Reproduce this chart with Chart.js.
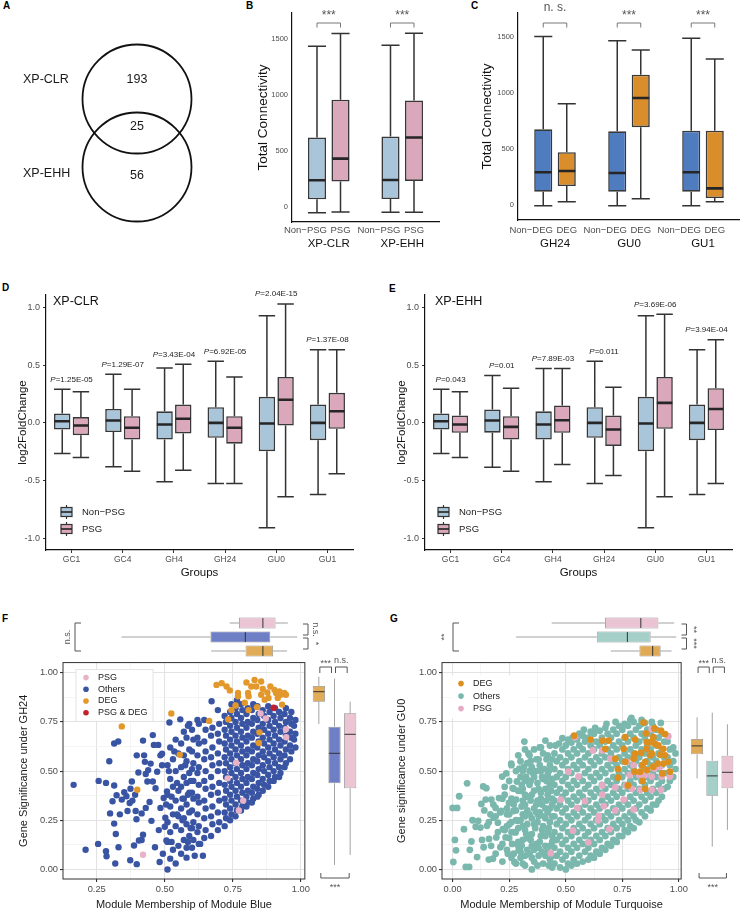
<!DOCTYPE html>
<html>
<head>
<meta charset="utf-8">
<script src="https://cdn.jsdelivr.net/npm/chart.js@4.4.1/dist/chart.umd.min.js"></script>
<style>
  body { margin: 0; background: #fff; }
  #fig { position: relative; width: 740px; height: 915px; overflow: hidden; background: #fff; font-family: 'Liberation Sans', Arial, sans-serif; }
  #fig canvas { position: absolute; }
  .tag { position: absolute; font-weight: bold; font-size: 10px; line-height: 10px; color: #000; }
</style>
</head>
<body>
<div id="fig">
  <div class="tag" style="left:3px;top:1px">A</div>
  <div class="tag" style="left:246px;top:1px">B</div>
  <div class="tag" style="left:471px;top:1px">C</div>
  <div class="tag" style="left:2px;top:283px">D</div>
  <div class="tag" style="left:389px;top:284px">E</div>
  <div class="tag" style="left:2px;top:614px">F</div>
  <div class="tag" style="left:390px;top:614px">G</div>
  <canvas id="venn" width="230" height="240" style="left:0;top:0"></canvas>
  <canvas id="chartB" width="200" height="250" style="left:240px;top:0"></canvas>
  <canvas id="chartC" width="270" height="250" style="left:470px;top:0"></canvas>
  <canvas id="chartD" width="360" height="302" style="left:0;top:280px"></canvas>
  <canvas id="chartE" width="360" height="302" style="left:380px;top:280px"></canvas>
  <canvas id="chartF" width="312" height="260" style="left:0;top:655px"></canvas>
  <canvas id="chartG" width="310" height="260" style="left:380px;top:655px"></canvas>
  <canvas id="topF" width="330" height="47" style="left:0;top:612px"></canvas>
  <canvas id="rightF" width="55" height="275" style="left:308px;top:640px"></canvas>
  <canvas id="topG" width="360" height="47" style="left:380px;top:612px"></canvas>
  <canvas id="rightG" width="54" height="275" style="left:686px;top:640px"></canvas>
</div>
<script>
// ---- A: Venn ----
const vennSets = ['XP-CLR', 'XP-EHH'];
const vennCounts = [193, 25, 56];   // only XP-CLR, both, only XP-EHH

// ---- B / C: total connectivity, boxes as [min, q1, median, q3, max] ----
const connTicks = [0, 500, 1000, 1500];
const groupsB = ['XP-CLR', 'XP-EHH'];
const connNonPSG = [[-54, 66, 237, 620, 1437], [-50, 69, 240, 629, 1447]];
const connPSG = [[-48, 225, 431, 959, 1552], [-50, 231, 620, 952, 1554]];
const sigB = ['***', '***'];

const groupsC = ['GH24', 'GU0', 'GU1'];
const connNonDEG = [[-6, 119, 293, 677, 1506], [-6, 119, 286, 659, 1469], [-6, 119, 293, 665, 1492]];
const connDEG = [[29, 170, 304, 472, 906], [56, 696, 957, 1165, 1386], [29, 62, 149, 665, 1306]];
const sigC = ['n. s.', '***', '***'];

// ---- D / E: log2FoldChange ----
const fcGroups = ['GC1', 'GC4', 'GH4', 'GH24', 'GU0', 'GU1'];
const fcTicks = [-1, -0.5, 0, 0.5, 1];
const clrNonPSG = [[-0.265, -0.058, 0.014, 0.08, 0.29], [-0.38, -0.08, 0.02, 0.12, 0.42], [-0.51, -0.144, -0.014, 0.10, 0.475],
  [-0.525, -0.13, 0.0, 0.135, 0.533], [-0.908, -0.245, -0.006, 0.225, 0.928], [-0.62, -0.15, 0.0, 0.158, 0.634]];
const clrPSG = [[-0.30, -0.107, -0.023, 0.05, 0.27], [-0.42, -0.144, -0.043, 0.058, 0.29], [-0.41, -0.092, 0.035, 0.158, 0.507],
  [-0.525, -0.18, -0.043, 0.058, 0.398], [-0.64, -0.023, 0.20, 0.398, 1.03], [-0.44, -0.052, 0.10, 0.26, 0.634]];
const pClr = ['1.25E-05', '1.29E-07', '3.43E-04', '6.92E-05', '2.04E-15', '1.37E-08'];
const ehhNonPSG = [[-0.265, -0.058, 0.014, 0.08, 0.29], [-0.385, -0.085, 0.02, 0.115, 0.41], [-0.51, -0.144, -0.014, 0.10, 0.47],
  [-0.525, -0.13, 0.0, 0.135, 0.533], [-0.908, -0.245, -0.006, 0.225, 0.928], [-0.62, -0.15, 0.0, 0.158, 0.634]];
const ehhPSG = [[-0.30, -0.086, -0.014, 0.063, 0.27], [-0.42, -0.144, -0.035, 0.058, 0.30], [-0.36, -0.086, 0.023, 0.15, 0.47],
  [-0.455, -0.20, -0.058, 0.063, 0.308], [-0.64, -0.052, 0.173, 0.398, 0.94], [-0.525, -0.063, 0.12, 0.30, 0.72]];
const pEhh = ['0.043', '0.01', '7.89E-03', '0.011', '3.69E-06', '3.94E-04'];

// ---- F / G: module membership vs gene significance ----
const unitMajor = [0, 0.25, 0.5, 0.75, 1];
const unitMinor = [0.125, 0.375, 0.625, 0.875];

const fOthers = [
  [.165,.43],[.209,.10],[.257,.45],[.255,.13],[.284,.44],[.296,.55],[.314,.64],[.329,.65],[.299,.285],[.284,.093],
  [.286,.067],[.314,.427],[.308,.347],[.314,.233],[.320,.18],[.318,.03],[.323,.377],[.335,.28],[.342,.355],[.351,.393],
  [.330,.113],[.359,.372],[.363,.297],[.371,.338],[.374,.41],[.379,.447],[.381,.35],[.373,.047],[.387,.122],[.391,.38],
  [.393,.297],[.396,.255],[.397,.58],[.397,.027],[.403,.493],[.405,.147],[.415,.15],[.415,.285],[.420,.177],[.420,.655],
  [.424,.58],[.427,.547],[.430,.485],[.430,.313],[.436,.447],[.439,.505],[.444,.343],[.448,.538],[.451,.247],[.456,.683],
  [.456,.447],[.460,.633],[.464,.113],[.466,.413],[.472,.497],[.476,.633],[.478,.20],[.481,.038],[.484,.58],[.484,.313],
  [.490,.588],[.490,.53],[.493,.08],[.496,.363],[.500,.217],[.502,.263],[.506,.147],[.508,.397],
  [.51,.00],[.52,.055],[.54,.03],[.53,.10],[.51,.14],[.55,.12],[.52,.19],[.54,.22],[.51,.24],[.53,.28],[.55,.27],[.52,.32],
  [.54,.35],[.51,.38],[.53,.42],[.55,.40],[.52,.46],[.54,.50],[.51,.53],[.53,.56],[.55,.59],[.52,.62],[.54,.66],[.517,.747],
  [.557,.763],[.56,.08],[.58,.11],[.57,.15],[.59,.17],[.56,.20],[.58,.23],[.57,.26],[.59,.29],[.56,.31],[.58,.33],[.57,.36],
  [.59,.39],[.56,.42],[.58,.44],[.57,.47],[.59,.49],[.56,.52],[.58,.55],[.57,.58],[.59,.61],[.56,.64],[.58,.67],[.57,.70],
  [.59,.74],[.58,.06],[.585,.73],[.62,.76],[.61,.07],[.64,.07],[.63,.13],
  [.505,.33],[.525,.37],[.545,.44],[.515,.50],[.535,.60],[.545,.28],[.525,.14],[.565,.36],[.575,.53],[.595,.45],[.585,.38],
  [.565,.25],[.595,.21],[.585,.14],
  [.60,.11],[.605,.15],[.60,.21],[.605,.24],[.60,.30],[.605,.36],[.60,.39],[.605,.45],[.60,.51],[.605,.54],[.60,.60],[.605,.66],[.60,.71],
  [.625,.13],[.62,.19],[.625,.22],[.62,.28],[.625,.34],[.62,.37],[.625,.43],[.62,.49],[.625,.52],[.62,.58],[.625,.64],[.62,.67],[.625,.74],
  [.645,.16],[.65,.20],[.645,.26],[.65,.31],[.645,.35],[.65,.41],[.645,.45],[.65,.50],[.645,.56],[.65,.60],[.645,.65],[.65,.71],[.645,.76],
  [.67,.17],[.675,.23],[.67,.27],[.675,.32],[.67,.38],[.675,.42],[.67,.47],[.675,.53],[.67,.57],[.675,.62],[.67,.68],[.675,.72],[.672,.855],
  [.695,.20],[.70,.24],[.695,.29],[.70,.35],[.695,.39],[.70,.44],[.695,.50],[.70,.54],[.695,.59],[.70,.65],[.695,.69],[.70,.74],[.695,.81],
  [.72,.22],[.725,.26],[.72,.29],[.725,.33],[.72,.36],[.725,.40],[.72,.43],[.725,.47],[.72,.50],[.725,.54],[.72,.57],[.725,.61],[.72,.64],[.725,.68],[.72,.71],[.725,.75],[.72,.78],
  [.74,.25],[.745,.28],[.74,.31],[.745,.35],[.74,.38],[.745,.42],[.74,.45],[.745,.49],[.74,.52],[.745,.56],[.74,.59],[.745,.63],[.74,.66],[.745,.70],[.74,.73],[.745,.77],[.74,.80],[.745,.84],
  [.76,.27],[.765,.30],[.76,.33],[.765,.37],[.76,.40],[.765,.44],[.76,.47],[.765,.51],[.76,.54],[.765,.58],[.76,.61],[.765,.65],[.76,.68],[.765,.72],[.76,.75],[.765,.79],[.76,.82],[.765,.86],
  [.78,.30],[.785,.32],[.78,.35],[.785,.39],[.78,.42],[.785,.46],[.78,.49],[.785,.53],[.78,.56],[.785,.60],[.78,.63],[.785,.67],[.78,.70],[.785,.74],[.78,.77],[.785,.81],[.78,.84],
  [.80,.32],[.805,.34],[.80,.37],[.805,.40],[.80,.44],[.805,.47],[.80,.51],[.805,.54],[.80,.58],[.805,.61],[.80,.65],[.805,.68],[.80,.72],[.805,.75],[.80,.79],[.805,.82],
  [.82,.34],[.825,.36],[.82,.39],[.825,.42],[.82,.46],[.825,.49],[.82,.53],[.825,.56],[.82,.60],[.825,.63],[.82,.67],[.825,.70],[.82,.74],[.825,.77],[.82,.81],[.825,.84],
  [.84,.37],[.845,.38],[.84,.41],[.845,.44],[.84,.48],[.845,.51],[.84,.55],[.845,.58],[.84,.62],[.845,.65],[.84,.69],[.845,.72],[.84,.76],[.845,.79],[.84,.83],
  [.86,.40],[.865,.43],[.86,.46],[.865,.50],[.86,.53],[.865,.57],[.86,.60],[.865,.64],[.86,.67],[.865,.71],[.86,.74],[.865,.78],[.86,.81],
  [.88,.42],[.885,.45],[.88,.48],[.885,.52],[.88,.55],[.885,.59],[.88,.62],[.885,.66],[.88,.69],[.885,.73],[.88,.76],[.885,.80],[.88,.83],
  [.90,.45],[.905,.47],[.90,.50],[.905,.54],[.90,.57],[.905,.61],[.90,.64],[.905,.68],[.90,.71],[.905,.75],[.90,.78],[.905,.82],
  [.92,.47],[.925,.49],[.92,.52],[.925,.56],[.92,.59],[.925,.63],[.92,.66],[.925,.70],[.92,.73],[.925,.77],[.92,.80],
  [.94,.52],[.945,.54],[.94,.58],[.945,.61],[.94,.65],[.945,.68],[.94,.72],[.945,.75],[.94,.79],[.945,.82],
  [.96,.56],[.965,.60],[.96,.63],[.965,.67],[.96,.70],[.965,.74],[.96,.77],[.965,.80],
  [.98,.62],[.975,.66],[.98,.69],[.975,.73],[.98,.76]
];
const fDEG = [
  [.690,.938],[.709,.947],[.727,.93],[.739,.91],[.769,.897],[.769,.88],[.800,.95],[.818,.93],[.830,.963],[.836,.93],
  [.854,.955],[.860,.917],[.888,.93],[.903,.913],[.909,.897],[.921,.905],[.939,.897],[.945,.888],[.808,.88],[.854,.888],
  [.867,.863],[.881,.872],[.915,.872],[.931,.838],[.794,.847],[.760,.833],[.745,.81],[.808,.81],[.839,.825],[.733,.763],
  [.848,.697],[.846,.643],[.663,.755],[.524,.793],[.555,.583],[.342,.727],[.399,.405],[.806,.897],[.877,.90],[.925,.888]
];
const fPSG = [[.852,.793],[.871,.767],[.945,.713],[.946,.672],[.762,.542],[.731,.463],[.788,.35],[.772,.30],[.420,.075]];
const fPSGDEG = [[.900,.822]];
const fTopStats = [[.733, .767, .854, .900, .945], [.339, .663, .790, .881, .979], [.666, .791, .854, .891, .942]];
const fRightStats = [[.727, .838, .888, .917, .963], [.022, .43, .58, .713, .953], [.072, .405, .675, .78, .838]];

const gOthers = [
  [.0,.313],[.02,.313],[.029,.372],[.003,.038],[.01,.15],[.015,.097],[.05,.205],[.064,.438],[.058,.013],[.073,.013],
  [.076,.10],[.083,.142],[.088,.25],[.102,.217],[.108,.063],[.113,.247],[.123,.213],[.127,.333],[.135,.422],[.137,.113],
  [.146,.355],[.149,.413],[.152,.222],[.161,.155],[.167,.28],[.171,.355],[.178,.055],[.181,.263],[.19,.313],[.193,.163],
  [.20,.238],[.205,.363],[.211,.113],[.215,.297],[.219,.472],[.222,.205],[.23,.38],[.234,.163],[.237,.488],[.24,.28],
  [.244,.08],[.249,.338],[.251,.23],[.259,.538],[.263,.13],[.266,.413],[.269,.297],[.273,.038],[.278,.188],[.281,.355],
  [.284,.447],[.288,.247],[.292,.097],[.295,.513],[.317,.65],
  [.14,.30],[.19,.27],[.23,.20],[.27,.19],[.29,.12],[.35,.12],[.17,.12],[.13,.15],[.22,.13],
  [.16,.24],[.18,.33],[.20,.19],[.21,.29],[.22,.36],[.24,.31],[.25,.16],[.26,.24],[.27,.41],[.28,.30],[.29,.21],[.30,.47],[.31,.41],
  [.16,.05],[.19,.08],[.22,.04],[.24,.10],[.26,.06],[.28,.03],[.30,.09],[.31,.28],[.32,.33],[.33,.23],[.34,.50],[.335,.59],[.37,.56],
  [.26,.53],[.29,.58],[.32,.61],[.41,.655],[.385,.62],[.43,.63],[.455,.63],[.485,.667],[.47,.64],[.51,.66],[.53,.67],[.56,.69],
  [.58,.71],[.63,.72],[.68,.74],[.72,.75],[.79,.77],[.835,.74],[.88,.75],[.92,.745],
  [.23,.42],[.25,.45],[.27,.33],[.28,.25],[.26,.19],[.29,.14],[.27,.08],[.25,.28],[.29,.40],[.28,.50],[.26,.36],[.24,.22],
  [.30,.55],[.31,.50],[.32,.45],[.30,.40],[.31,.35],[.33,.30],[.30,.25],[.32,.20],[.31,.15],[.33,.10],[.30,.06],[.32,.02],
  [.34,.58],[.35,.52],[.36,.47],[.34,.43],[.35,.38],[.37,.33],[.34,.28],[.36,.23],[.35,.18],[.37,.13],[.34,.08],[.36,.04],[.35,.00],
  [.38,.56],[.39,.50],[.40,.46],[.38,.41],[.39,.36],[.41,.31],[.38,.27],[.40,.22],[.39,.17],[.41,.12],[.38,.07],[.40,.03],
  [.42,.58],[.43,.53],[.42,.48],[.43,.43],[.42,.38],[.44,.33],[.42,.29],[.43,.24],[.42,.19],[.44,.14],[.42,.09],[.43,.05],[.44,.01],
  [.36,.61],[.40,.59],[.33,.54],[.37,.50],[.41,.41],[.33,.37],[.37,.29],[.41,.26],[.33,.16],[.38,.11],[.39,.62],
  [.315,.52],[.325,.47],[.305,.43],[.32,.38],[.305,.32],[.32,.27],[.31,.22],[.325,.18],[.305,.12],[.32,.07],[.31,.03],
  [.345,.55],[.355,.49],[.345,.45],[.36,.40],[.345,.35],[.36,.31],[.35,.26],[.365,.21],[.345,.15],[.36,.10],[.35,.06],
  [.385,.53],[.395,.47],[.375,.44],[.39,.39],[.375,.35],[.395,.33],[.385,.29],[.375,.24],[.395,.20],[.385,.14],[.395,.09],[.375,.02],
  [.415,.56],[.425,.50],[.405,.51],[.415,.45],[.435,.40],[.415,.35],[.43,.31],[.405,.27],[.425,.21],[.41,.17],[.43,.12],[.41,.07],[.425,.02],
  [.44,.56],[.44,.46],[.44,.36],[.44,.27],[.44,.17],[.44,.07],
  [.45,.03],[.46,.07],[.45,.11],[.46,.15],[.45,.19],[.46,.23],[.45,.27],[.46,.31],[.45,.35],[.46,.39],[.45,.43],[.46,.47],[.45,.51],[.46,.55],[.45,.59],
  [.475,.01],[.485,.05],[.475,.09],[.485,.13],[.475,.17],[.485,.21],[.475,.25],[.485,.29],[.475,.33],[.485,.37],[.475,.41],[.485,.45],[.475,.49],[.485,.53],[.475,.57],[.485,.61],
  [.50,.00],[.51,.03],[.50,.07],[.51,.11],[.50,.15],[.51,.19],[.50,.23],[.51,.27],[.50,.31],[.51,.35],[.50,.39],[.51,.43],[.50,.47],[.51,.51],[.50,.55],[.51,.59],[.50,.63],
  [.525,.02],[.535,.05],[.525,.09],[.535,.13],[.525,.17],[.535,.21],[.525,.25],[.535,.29],[.525,.33],[.535,.37],[.525,.41],[.535,.45],[.525,.49],[.535,.53],[.525,.57],[.535,.61],[.525,.645],
  [.55,.03],[.56,.07],[.55,.11],[.56,.15],[.55,.19],[.56,.23],[.55,.27],[.56,.31],[.55,.35],[.56,.39],[.55,.43],[.56,.47],[.55,.51],[.56,.55],[.55,.59],[.56,.63],[.55,.66],
  [.575,.04],[.585,.09],[.575,.13],[.585,.17],[.575,.21],[.585,.25],[.575,.29],[.585,.33],[.575,.37],[.585,.41],[.575,.45],[.585,.49],[.575,.53],[.585,.57],[.575,.61],[.585,.65],[.575,.68],
  [.60,.05],[.61,.07],[.60,.11],[.61,.15],[.60,.19],[.61,.23],[.60,.27],[.61,.31],[.60,.35],[.61,.39],[.60,.43],[.61,.47],[.60,.51],[.61,.55],[.60,.59],[.61,.63],[.60,.67],[.61,.70],
  [.625,.06],[.635,.09],[.625,.13],[.635,.17],[.625,.21],[.635,.25],[.625,.29],[.635,.33],[.625,.37],[.635,.41],[.625,.45],[.635,.49],[.625,.53],[.635,.57],[.625,.61],[.635,.65],[.625,.69],
  [.65,.08],[.66,.11],[.65,.15],[.66,.19],[.65,.23],[.66,.27],[.65,.31],[.66,.35],[.65,.39],[.66,.43],[.65,.47],[.66,.51],[.65,.55],[.66,.59],[.65,.63],[.66,.67],[.65,.705],
  [.675,.10],[.685,.13],[.675,.17],[.685,.21],[.675,.25],[.685,.29],[.675,.33],[.685,.37],[.675,.41],[.685,.45],[.675,.49],[.685,.53],[.675,.57],[.685,.61],[.675,.65],[.685,.69],[.675,.72],
  [.70,.12],[.71,.15],[.70,.19],[.71,.23],[.70,.27],[.71,.31],[.70,.35],[.71,.39],[.70,.43],[.71,.47],[.70,.51],[.71,.55],[.70,.59],[.71,.63],[.70,.67],[.71,.71],
  [.725,.14],[.735,.17],[.725,.21],[.735,.25],[.725,.29],[.735,.33],[.725,.37],[.735,.41],[.725,.45],[.735,.49],[.725,.53],[.735,.57],[.725,.61],[.735,.65],[.725,.69],[.735,.73],
  [.75,.17],[.76,.20],[.75,.23],[.76,.27],[.75,.31],[.76,.35],[.75,.39],[.76,.43],[.75,.47],[.76,.51],[.75,.55],[.76,.59],[.75,.63],[.76,.67],[.75,.71],[.76,.74],
  [.775,.19],[.785,.22],[.775,.25],[.785,.29],[.775,.33],[.785,.37],[.775,.41],[.785,.45],[.775,.49],[.785,.53],[.775,.57],[.785,.61],[.775,.65],[.785,.69],[.775,.73],[.785,.76],
  [.80,.21],[.81,.25],[.80,.27],[.81,.31],[.80,.35],[.81,.39],[.80,.43],[.81,.47],[.80,.51],[.81,.55],[.80,.59],[.81,.63],[.80,.67],[.81,.71],[.80,.75],
  [.825,.24],[.835,.29],[.825,.33],[.835,.37],[.825,.41],[.835,.45],[.825,.49],[.835,.53],[.825,.57],[.835,.61],[.825,.65],[.835,.69],[.825,.73],[.835,.76],
  [.85,.27],[.86,.31],[.85,.35],[.86,.39],[.85,.43],[.86,.47],[.85,.51],[.86,.55],[.85,.59],[.86,.63],[.85,.67],[.86,.71],[.85,.745],
  [.875,.30],[.885,.33],[.875,.37],[.885,.41],[.875,.45],[.885,.49],[.875,.53],[.885,.57],[.875,.61],[.885,.65],[.875,.69],[.885,.73],
  [.90,.33],[.91,.35],[.90,.39],[.91,.43],[.90,.47],[.91,.51],[.90,.55],[.91,.59],[.90,.63],[.91,.67],[.90,.71],
  [.925,.37],[.935,.41],[.925,.45],[.935,.49],[.925,.53],[.935,.57],[.925,.61],[.935,.65],[.925,.69],
  [.95,.42],[.96,.45],[.95,.49],[.96,.53],[.95,.57],[.96,.61],[.95,.65],
  [.975,.47],[.985,.51],[.975,.55],[.985,.59],[.975,.62]
];
const gDEG = [
  [.537,.68],[.61,.66],[.661,.655],[.69,.655],[.763,.672],[.807,.66],[.844,.747],[.854,.692],[.887,.672],[.921,.705],
  [.939,.688],[.873,.647],[.895,.638],[.909,.63],[.858,.613],[.88,.588],[.917,.583],[.939,.58],[.953,.547],[.931,.538],
  [.906,.538],[.887,.522],[.873,.58],[.833,.593],[.807,.588],[.80,.563],[.851,.547],[.839,.53],[.719,.563],[.756,.613],
  [.763,.547],[.731,.51],[.731,.467],[.804,.497],[.829,.497],[.86,.505],[.839,.45],[.775,.427],[.851,.41],[.927,.488],
  [.96,.497],[.892,.717],[.675,.613],[.931,.613],[.858,.647]
];
const gPSG = [
  [.541,.672],[.62,.605],[.661,.605],[.697,.563],[.77,.547],[.80,.53],[.88,.713],[.953,.677],[.892,.513],[.917,.522],
  [.924,.472],[.96,.472],[.88,.472],[.851,.48],[.825,.48],[.782,.48],[.792,.41],[.829,.405],[.88,.405],[.921,.405],
  [.719,.417],[.661,.427],[.556,.472],[.512,.497],[.478,.355],[.551,.313],[.585,.347],[.661,.38],[.668,.322],[.646,.272],
  [.643,.25],[.719,.30],[.756,.355],[.80,.305],[.693,.205],[.532,.197],[.599,.138],[.434,.083],[.766,.427]
];
const gTopStats = [[.434, .668, .825, .902, .971], [.278, .632, .766, .868, .98], [.693, .819, .877, .912, .96]];
const gRightStats = [[.455, .575, .617, .652, .76], [.113, .368, .467, .543, .783], [.197, .405, .485, .568, .725]];

// ---------------------------------------------------------------
const FONT = "'Liberation Sans', Arial, sans-serif";
Chart.defaults.font.family = FONT;
Chart.defaults.color = '#4d4d4d';
Chart.defaults.animation = false;
Chart.defaults.responsive = false;
Chart.defaults.layout.autoPadding = false;
Chart.defaults.plugins.legend.display = false;
Chart.defaults.plugins.tooltip.enabled = false;

const BLUE_LT = '#a9c5da', PINK = '#dba7bb', BLUE = '#4f7bbf', ORANGE = '#d98e2b';

function txt(ctx, s, x, y, font, color, align, base, rot) {
  ctx.save();
  ctx.font = font; ctx.fillStyle = color;
  ctx.textAlign = align || 'center'; ctx.textBaseline = base || 'middle';
  ctx.translate(x, y);
  if (rot) ctx.rotate(rot);
  ctx.fillText(s, 0, 0);
  ctx.restore();
}
function textWidth(ctx, s, font) {
  ctx.save(); ctx.font = font; const w = ctx.measureText(s).width; ctx.restore();
  return w;
}
function path(ctx, pts, color, w) {
  ctx.save();
  ctx.strokeStyle = color; ctx.lineWidth = w;
  ctx.beginPath();
  pts.forEach((p, i) => i ? ctx.lineTo(p[0], p[1]) : ctx.moveTo(p[0], p[1]));
  ctx.stroke();
  ctx.restore();
}

// whiskers, caps and medians for floating-bar boxes (dataset.stats holds the five numbers)
function eachBox(chart, fn) {
  const horiz = chart.options.indexAxis === 'y';
  const vs = horiz ? chart.scales.x : chart.scales.y;
  chart.data.datasets.forEach((ds, di) => {
    if (!ds.stats) return;
    chart.getDatasetMeta(di).data.forEach((el, i) => {
      const p = el.getProps(['x', 'y', 'width', 'height'], true);
      const c = horiz ? p.y : p.x;
      const half = (horiz ? p.height : p.width) / 2;
      fn(c, half, ds.stats[i].map(v => vs.getPixelForValue(v)), horiz);
    });
  });
}
function seg(ctx, c1, v1, c2, v2, horiz) {
  if (horiz) { ctx.moveTo(v1, c1); ctx.lineTo(v2, c2); } else { ctx.moveTo(c1, v1); ctx.lineTo(c2, v2); }
}
Chart.register({
  id: 'boxes',
  beforeDatasetsDraw(chart, args, o) {
    if (!o.color) return;
    const ctx = chart.ctx;
    ctx.save();
    ctx.strokeStyle = o.color; ctx.lineWidth = o.width;
    ctx.beginPath();
    eachBox(chart, (c, half, px, horiz) => {
      seg(ctx, c, px[0], c, px[1], horiz);
      seg(ctx, c, px[3], c, px[4], horiz);
      if (o.caps) {
        seg(ctx, c - half, px[0], c + half, px[0], horiz);
        seg(ctx, c - half, px[4], c + half, px[4], horiz);
      }
    });
    ctx.stroke();
    ctx.restore();
  },
  afterDatasetsDraw(chart, args, o) {
    if (!o.color) return;
    const ctx = chart.ctx;
    ctx.save();
    ctx.strokeStyle = o.medianColor; ctx.lineWidth = o.medianWidth;
    ctx.beginPath();
    eachBox(chart, (c, half, px, horiz) => seg(ctx, c - half + 0.5, px[2], c + half - 0.5, px[2], horiz));
    ctx.stroke();
    ctx.restore();
  }
});

// ---- A ----
new Chart(document.getElementById('venn'), {
  type: 'scatter',
  data: { datasets: [{ data: vennSets.map((s, i) => ({ x: 0, y: i })), pointRadius: 54.5, pointHoverRadius: 54.5,
    backgroundColor: 'rgba(0,0,0,0)', borderColor: '#111', borderWidth: 1.8, clip: false }] },
  options: {
    layout: { padding: 0 },
    scales: { x: { display: false, min: -2.015, max: 1.368 }, y: { display: false, reverse: true, min: -1.456, max: 2.074 } }
  },
  plugins: [{ id: 'vennText', afterDraw(chart) {
    const ctx = chart.ctx, ys = chart.scales.y, a = chart.chartArea, cx = chart.scales.x.getPixelForValue(0);
    const f = `12.5px ${FONT}`, col = '#1a1a1a';
    txt(ctx, String(vennCounts[0]), cx, ys.getPixelForValue(-0.29), f, col);
    txt(ctx, String(vennCounts[1]), cx, ys.getPixelForValue(0.4), f, col);
    txt(ctx, String(vennCounts[2]), cx, ys.getPixelForValue(1.12), f, col);
    txt(ctx, vennSets[0], a.left + 23, ys.getPixelForValue(-0.28), f, col, 'left');
    txt(ctx, vennSets[1], a.left + 23, ys.getPixelForValue(1.09), f, col, 'left');
  } }]
});

// ---- box chart builder for B-E ----
function boxChart(id, o, extra) {
  return new Chart(document.getElementById(id), {
    type: 'bar',
    data: {
      labels: o.labels,
      datasets: o.sets.map((s, k) => ({
        label: o.names[k], data: s.map(v => [v[1], v[3]]), stats: s,
        backgroundColor: o.colors[k], borderColor: '#383838', borderWidth: 1.6, borderSkipped: false,
        categoryPercentage: o.catPct, barPercentage: o.barPct
      }))
    },
    options: {
      layout: { padding: o.pad },
      plugins: { boxes: { color: '#333', width: 1.5, caps: true, medianColor: '#262626', medianWidth: 2.6 } },
      scales: {
        x: {
          grid: { display: o.ticks, drawOnChartArea: false, drawTicks: o.ticks, offset: false, tickLength: 3, color: '#333' },
          border: { display: true, color: '#111', width: 1.2 },
          ticks: { font: { size: o.xFont }, color: o.xColor, padding: o.xPad, autoSkip: false, maxRotation: 0 },
          title: o.xTitle ? { display: true, text: o.xTitle, color: '#111', font: { size: 11.5 }, padding: { bottom: 1.8, top: 0 } } : { display: false },
          afterFit: s => { s.height = o.xH; }
        },
        y: {
          min: o.yMin, max: o.yMax,
          afterBuildTicks: s => { s.ticks = o.yTicks.map(v => ({ value: v })); },
          grid: { display: o.ticks, drawOnChartArea: false, drawTicks: o.ticks, tickLength: 3, color: '#333' },
          border: { display: true, color: '#111', width: 1.2 },
          ticks: { font: { size: o.yFont }, color: '#4d4d4d', padding: o.yPad, callback: o.yFmt },
          title: { display: true, text: o.yTitle, color: '#111', font: { size: o.yTitleSize }, padding: { top: o.yTitlePad, bottom: 0 } },
          afterFit: s => { s.width = o.yW; }
        }
      }
    },
    plugins: extra
  });
}

function pairAnnot(sig, sigFont, subDy) {
  return { id: 'pairAnnot', afterDraw(chart) {
    const ctx = chart.ctx, a = chart.chartArea;
    const m0 = chart.getDatasetMeta(0).data, m1 = chart.getDatasetMeta(1).data;
    const n0 = chart.data.datasets[0].label, n1 = chart.data.datasets[1].label;
    const sf = `9.5px ${FONT}`, w1 = textWidth(ctx, n1, sf);
    m0.forEach((el, i) => {
      const x0 = el.x, x1 = m1[i].x;
      txt(ctx, n0, Math.min(x0 + 12, x1 - w1 / 2 - 3.5), a.bottom + subDy, sf, '#4d4d4d', 'right');
      txt(ctx, n1, x1, a.bottom + subDy, sf, '#4d4d4d');
      path(ctx, [[x0, a.top + 14.5], [x0, a.top + 10], [x1, a.top + 10], [x1, a.top + 14.5]], '#777', 1);
      const isStar = sig[i].indexOf('*') >= 0;
      txt(ctx, sig[i], (x0 + x1) / 2, isStar ? a.top + 3 : a.top - 5, isStar ? `12px ${FONT}` : sigFont, '#555');
    });
  } };
}

boxChart('chartB', {
  labels: groupsB, sets: [connNonPSG, connPSG], names: ['Non−PSG', 'PSG'], colors: [BLUE_LT, PINK],
  yMin: -137, yMax: 1736, yTicks: connTicks, yFmt: v => String(v), yFont: 7.5, yPad: 4,
  yTitle: 'Total Connectivity', yTitleSize: 13.5, yTitlePad: 14.9, yW: 52, xH: 28,
  pad: { top: 13, right: 1, left: 0, bottom: 0 }, catPct: 0.64, barPct: 0.77,
  xFont: 11.5, xColor: '#111', xPad: 15, ticks: false
}, [pairAnnot(sigB, `11px ${FONT}`, 8)]);

boxChart('chartC', {
  labels: groupsC, sets: [connNonDEG, connDEG], names: ['Non−DEG', 'DEG'], colors: [BLUE, ORANGE],
  yMin: -134, yMax: 1717, yTicks: connTicks, yFmt: v => String(v), yFont: 7.5, yPad: 4,
  yTitle: 'Total Connectivity', yTitleSize: 13.5, yTitlePad: 8.9, yW: 48, xH: 30,
  pad: { top: 13, right: 0, left: 0, bottom: 0 }, catPct: 0.635, barPct: 0.77,
  xFont: 11.5, xColor: '#111', xPad: 17, ticks: false
}, [pairAnnot(sigC, `12px ${FONT}`, 10)]);

function fcAnnot(title, pvals, legDx, titleDx) {
  return { id: 'fcAnnot', afterDraw(chart) {
    const ctx = chart.ctx, a = chart.chartArea, xs = chart.scales.x, ys = chart.scales.y;
    const sets = chart.data.datasets;
    txt(ctx, title, a.left + titleDx, a.top + 7, `12.5px ${FONT}`, '#111', 'left');
    pvals.forEach((p, i) => {
      const top = Math.max(sets[0].stats[i][4], sets[1].stats[i][4]);
      const y = ys.getPixelForValue(top + 0.085), x = xs.getPixelForValue(i);
      const wP = textWidth(ctx, 'P', `italic 8px ${FONT}`), wR = textWidth(ctx, '=' + p, `8px ${FONT}`);
      const x0 = x - (wP + wR) / 2;
      txt(ctx, 'P', x0, y, `italic 8px ${FONT}`, '#222', 'left');
      txt(ctx, '=' + p, x0 + wP, y, `8px ${FONT}`, '#222', 'left');
    });
    // legend with box glyphs
    sets.forEach((ds, k) => {
      const y = a.bottom - 38 + k * 17, gx = a.left + legDx;
      path(ctx, [[gx + 5.5, y - 7], [gx + 5.5, y + 7]], '#333', 1.2);
      ctx.save();
      ctx.fillStyle = ds.backgroundColor; ctx.strokeStyle = '#333'; ctx.lineWidth = 1.2;
      ctx.fillRect(gx, y - 4.5, 11, 9); ctx.strokeRect(gx, y - 4.5, 11, 9);
      ctx.restore();
      path(ctx, [[gx, y], [gx + 11, y]], '#222', 1.6);
      txt(ctx, ds.label, gx + 21, y, `9.5px ${FONT}`, '#1a1a1a', 'left');
    });
  } };
}

const fcBase = {
  labels: fcGroups, names: ['Non−PSG', 'PSG'], colors: [BLUE_LT, PINK],
  yMin: -1.101, yMax: 1.107, yTicks: fcTicks, yFmt: v => v.toFixed(1), yFont: 9, yPad: 3,
  yTitle: 'log2FoldChange', yTitleSize: 11.5, xH: 32, catPct: 0.73, barPct: 0.88,
  xFont: 8.5, xColor: '#4d4d4d', xPad: 2, ticks: true, xTitle: 'Groups'
};
boxChart('chartD', Object.assign({}, fcBase, {
  sets: [clrNonPSG, clrPSG], yTitlePad: 16.1, yW: 46, pad: { top: 15, right: 7, left: 0, bottom: 0 }
}), [fcAnnot('XP-CLR', pClr, 15, 7)]);
boxChart('chartE', Object.assign({}, fcBase, {
  sets: [ehhNonPSG, ehhPSG], yTitlePad: 14.8, yW: 45, pad: { top: 15, right: 8, left: 0, bottom: 0 }
}), [fcAnnot('XP-EHH', pEhh, 13, 10)]);

// ---- F / G scatter ----
function unitTicks(s) {
  s.ticks = unitMajor.map(v => ({ value: v, major: true })).concat(unitMinor.map(v => ({ value: v })))
    .filter(t => t.value >= s.min - 1e-9 && t.value <= s.max + 1e-9)
    .sort((p, q) => p.value - q.value);
}
const isMajor = c => !!(c.tick && c.tick.major);
function unitAxis(title, min, max, size, titlePad, horizontal) {
  return {
    type: 'linear', min: min, max: max,
    afterBuildTicks: unitTicks,
    grid: { color: c => isMajor(c) ? '#e3e3e3' : '#f0f0f0', lineWidth: c => isMajor(c) ? 1.1 : 0.7,
      tickColor: c => isMajor(c) ? '#333' : 'rgba(0,0,0,0)', tickLength: 3 },
    border: { display: false },
    ticks: { autoSkip: false, maxRotation: 0, font: { size: 9.3 }, color: '#4d4d4d', padding: 2,
      callback: (v, i, t) => t[i].major ? v.toFixed(2) : '' },
    title: { display: true, text: title, color: '#1a1a1a', font: { size: 11 },
      padding: horizontal ? { top: 0, bottom: titlePad } : { top: titlePad, bottom: 0 } },
    afterFit: s => { if (horizontal) s.height = size; else s.width = size; }
  };
}
const frame = { id: 'frame', afterDatasetsDraw(chart) {
  const a = chart.chartArea, ctx = chart.ctx;
  ctx.save(); ctx.strokeStyle = '#333'; ctx.lineWidth = 1;
  ctx.strokeRect(a.left, a.top, a.right - a.left, a.bottom - a.top); ctx.restore();
} };
function dotLegend(names, dx, dy, rowH, boxed) {
  return { id: 'dotLegend', afterDraw(chart) {
    const ctx = chart.ctx, a = chart.chartArea;
    const x0 = a.left + dx, y0 = a.top + dy;
    ctx.save();
    ctx.fillStyle = '#fff';
    ctx.fillRect(x0, y0, 77, rowH * names.length + 5);
    if (boxed) { ctx.strokeStyle = '#e4e4e4'; ctx.lineWidth = 1; ctx.strokeRect(x0, y0, 77, rowH * names.length + 5); }
    ctx.restore();
    names.forEach((n, k) => {
      const ds = chart.data.datasets.find(d => d.label === n);
      const y = y0 + 8 + k * rowH;
      ctx.save(); ctx.fillStyle = ds.backgroundColor; ctx.beginPath();
      ctx.arc(x0 + 10, y, 2.8, 0, Math.PI * 2); ctx.fill(); ctx.restore();
      txt(ctx, n, x0 + 22, y, `9px ${FONT}`, '#1a1a1a', 'left');
    });
  } };
}
function scatterChart(id, o, extra) {
  return new Chart(document.getElementById(id), {
    type: 'scatter',
    data: { datasets: o.series.map(s => ({
      label: s.name, data: s.pts.map(p => ({ x: p[0], y: p[1] })), order: s.order,
      backgroundColor: s.color, borderWidth: 0, pointRadius: o.radius, pointHoverRadius: o.radius
    })) },
    options: {
      layout: { padding: o.pad },
      scales: {
        x: unitAxis(o.xTitle, o.xMin, o.xMax, 36, 3.4, true),
        y: unitAxis(o.yTitle, -0.0485, 1.0515, o.yW, o.yTitlePad, false)
      }
    },
    plugins: [frame].concat(extra)
  });
}

scatterChart('chartF', {
  series: [
    { name: 'PSG & DEG', pts: fPSGDEG, color: '#c41f2b', order: 0 },
    { name: 'PSG', pts: fPSG, color: '#e8b3c7', order: 1 },
    { name: 'DEG', pts: fDEG, color: '#e3982c', order: 2 },
    { name: 'Others', pts: fOthers, color: '#3a54a4', order: 3 }
  ],
  radius: 3.2,
  xTitle: 'Module Membership of Module Blue', yTitle: 'Gene Significance under GH24',
  xMin: 0.126, xMax: 1.0146, yW: 63, yTitlePad: 17.4, pad: { top: 4, right: 5, left: 0, bottom: 0 }
}, [dotLegend(['PSG', 'Others', 'DEG', 'PSG & DEG'], 13, 7, 11.7, true)]);

scatterChart('chartG', {
  series: [
    { name: 'DEG', pts: gDEG, color: '#dc8f1f', order: 0 },
    { name: 'PSG', pts: gPSG, color: '#e4abc3', order: 1 },
    { name: 'Others', pts: gOthers, color: '#7ab8ae', order: 2 }
  ],
  radius: 3.4,
  xTitle: 'Module Membership of Module Turquoise', yTitle: 'Gene significance under GU0',
  xMin: -0.047, xMax: 1.010, yW: 62, yTitlePad: 15.4, pad: { top: 4, right: 7, left: 0, bottom: 0 }
}, [dotLegend(['DEG', 'Others', 'PSG'], 9, 13, 12.5, false)]);

// ---- marginal boxplots ----
const marginBox = { color: '#8c8c8c', width: 0.8, caps: false, medianColor: '#333', medianWidth: 1 };
function marginChart(id, o, extra) {
  const horiz = o.horizontal;
  const valueAxis = { type: 'linear', display: false, min: o.min, max: o.max };
  return new Chart(document.getElementById(id), {
    type: 'bar',
    data: { labels: o.labels, datasets: [{
      data: o.stats.map(s => [s[1], s[3]]), stats: o.stats, backgroundColor: o.colors,
      borderColor: '#8c8c8c', borderWidth: 0.8, borderSkipped: false, barPercentage: 0.78, categoryPercentage: 1
    }] },
    options: {
      indexAxis: horiz ? 'y' : 'x',
      layout: { padding: o.pad },
      plugins: { boxes: marginBox },
      scales: horiz ? { x: valueAxis, y: { display: false } } : { x: { display: false }, y: valueAxis }
    },
    plugins: extra
  });
}
function topAnnot(leftSig, rightSig, g) {
  return { id: 'topAnnot', afterDraw(chart) {
    const ctx = chart.ctx, a = chart.chartArea, ys = chart.scales.y;
    const r = chart.data.labels.map((l, i) => ys.getPixelForValue(i));
    const f = `9px ${FONT}`, col = '#555';
    const lx = a.left + g.lx;
    path(ctx, [[lx + 6, r[0]], [lx, r[0]], [lx, r[2]], [lx + 6, r[2]]], col, 1);
    txt(ctx, leftSig, a.left + g.ltx, (r[0] + r[2]) / 2, f, col, 'center', 'middle', -Math.PI / 2);
    const rx = a.right + g.rx;
    rightSig.forEach((s, i) => {
      const y0 = r[i] + 1, y1 = r[i + 1] - 2;
      path(ctx, [[rx - 5, y0], [rx, y0], [rx, y1], [rx - 5, y1]], col, 1);
      txt(ctx, s, rx + g.rtx, (y0 + y1) / 2, f, col, 'center', 'middle', Math.PI / 2);
    });
  } };
}
function rightAnnot(topSig, bottomSig) {
  return { id: 'rightAnnot', afterDraw(chart) {
    const ctx = chart.ctx, a = chart.chartArea, xs = chart.scales.x;
    const c = chart.data.labels.map((l, i) => xs.getPixelForValue(i));
    const f = `9px ${FONT}`, col = '#555';
    topSig.forEach((s, i) => {
      const x0 = c[i] + 1, x1 = c[i + 1] - 3;
      path(ctx, [[x0, a.top + 14], [x0, a.top + 8], [x1, a.top + 8], [x1, a.top + 14]], col, 1);
      txt(ctx, s, (x0 + x1) / 2, s.indexOf('*') >= 0 ? a.top + 5 : a.top + 2, f, col);
    });
    const x0 = c[0] + 2, x1 = c[2] - 1;
    path(ctx, [[x0, a.bottom - 6], [x0, a.bottom - 1], [x1, a.bottom - 1], [x1, a.bottom - 6]], col, 1);
    txt(ctx, bottomSig, (x0 + x1) / 2, a.bottom + 9, f, col);
  } };
}

const topLabels = ['PSG', 'Others', 'DEG'];
const rightLabels = ['DEG', 'Others', 'PSG'];
marginChart('topF', { horizontal: true, labels: topLabels, stats: fTopStats, colors: ['#ebc5d3', '#6f7fc5', '#e1ac58'],
  min: 0.126, max: 1.0146, pad: { left: 63, right: 23, top: 4, bottom: 1 } },
  [topAnnot('n.s.', ['n.s.', '*'], { lx: 12, ltx: 4.5, rx: 1, rtx: 7 })]);
marginChart('rightF', { horizontal: false, labels: rightLabels, stats: fRightStats, colors: ['#e1ac58', '#6f7fc5', '#ebc5d3'],
  min: -0.0485, max: 1.0515, pad: { left: 3, right: 5, top: 19, bottom: 36 } },
  [rightAnnot(['***', 'n.s.'], '***')]);
marginChart('topG', { horizontal: true, labels: topLabels, stats: gTopStats, colors: ['#eac4d3', '#a4d0c9', '#dfa955'],
  min: -0.047, max: 1.010, pad: { left: 62, right: 57, top: 4, bottom: 1 } },
  [topAnnot('**', ['**', '***'], { lx: 11, ltx: 3, rx: 3.5, rtx: 6.5 })]);
marginChart('rightG', { horizontal: false, labels: rightLabels, stats: gRightStats, colors: ['#dfa955', '#a4d0c9', '#eac4d3'],
  min: -0.0485, max: 1.0515, pad: { left: 3.5, right: 5, top: 19, bottom: 36 } },
  [rightAnnot(['***', 'n.s.'], '***')]);
</script>
</body>
</html>
